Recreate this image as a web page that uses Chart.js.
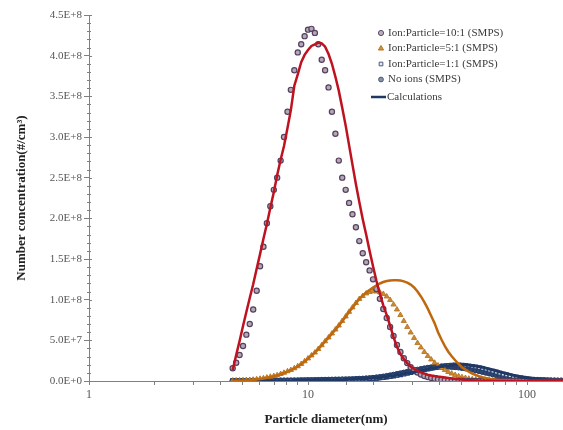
<!DOCTYPE html>
<html>
<head>
<meta charset="utf-8">
<script src="https://cdn.jsdelivr.net/npm/chart.js@4.4.1/dist/chart.umd.min.js"></script>
<style>
  html, body { margin: 0; padding: 0; background: #fff; }
</style>
</head>
<body>
<canvas id="psdChart" width="563" height="430"></canvas>
<script>
// particle diameter of each SMPS channel (nm), 64 channels per decade
var diameters = [
  4.53, 4.70, 4.87, 5.05, 5.23, 5.42, 5.62, 5.83, 6.04, 6.26,
  6.49, 6.73, 6.98, 7.23, 7.50, 7.77, 8.06, 8.35, 8.66, 8.98,
  9.31, 9.65, 10.0, 10.37, 10.75, 11.14, 11.55, 11.97, 12.41, 12.86,
  13.34, 13.82, 14.33, 14.86, 15.40, 15.96, 16.55, 17.15, 17.78, 18.43,
  19.11, 19.81, 20.54, 21.29, 22.07, 22.88, 23.71, 24.58, 25.48, 26.42,
  27.38, 28.39, 29.43, 30.51, 31.62, 32.78, 33.98, 35.23, 36.52, 37.86,
  39.24, 40.68, 42.17, 43.71, 45.32, 46.98, 48.70, 50.48, 52.33, 54.25,
  56.23, 58.29, 60.43, 62.64, 64.94, 67.32, 69.78, 72.34, 74.99, 77.74,
  80.58, 83.54, 86.60, 89.77, 93.06, 96.47, 100.0, 103.7, 107.5, 111.4,
  115.5, 119.7, 124.1, 128.6, 133.4, 138.2, 143.3, 148.6
];

// number concentrations, in units of 1E+6 #/cm3
var ion10to1 = [
  15.6, 22.5, 32, 43, 57, 70, 88, 111, 141, 165,
  194, 215, 235, 250, 271, 300, 331, 358, 382, 404,
  414, 424, 432, 433, 428, 414, 395, 382, 361, 331,
  304, 271, 250, 235, 219, 205, 189, 172, 157, 146,
  136, 125, 113, 101, 88.5, 77.5, 66.4, 55.3, 44.3, 35.7,
  28, 22, 17, 13.5, 10.5, 8, 6.2, 4.8, 3.7, 2.8,
  2.1, 1.6, 1.2, 0.9, 0.7, 0.5, 0.4, 0.3, 0.2, 0.15,
  0.1, 0.08, 0.06, 0.05, 0.04, 0.03, 0.02, 0.02, 0.01, 0.01,
  0.01, 0, 0, 0, 0, 0, 0, 0, 0, 0,
  0, 0, 0, 0, 0, 0, 0, 0
];
var ion5to1 = [
  0.2, 0.3, 0.45, 0.65, 0.9, 1.2, 1.6, 2.1, 2.7, 3.3,
  4.2, 5.2, 6.1, 7.1, 8.6, 10.1, 11.9, 13.5, 15.6, 18.1,
  20.9, 24.2, 27.7, 31.4, 35, 39.3, 44, 48.8, 53.5, 58.4,
  63.3, 68.2, 73.8, 79.3, 85, 90.4, 95.9, 100.8, 104.5, 107.6,
  109.4, 110.3, 110, 109, 107, 103.9, 99.6, 94, 87.9, 81.1,
  73.8, 66.4, 59.6, 52.9, 46.7, 41.2, 35.7, 30.7, 26.4, 22.4,
  19.1, 16, 13.5, 11.1, 9.1, 7.4, 5.9, 4.7, 3.7, 2.9,
  2.2, 1.7, 1.3, 1.0, 0.75, 0.55, 0.4, 0.3, 0.22, 0.16,
  0.12, 0.09, 0.07, 0.05, 0.04, 0.03, 0.02, 0.02, 0.01, 0.01,
  0.01, 0, 0, 0, 0, 0, 0, 0
];
var ion1to1 = [
  0.15, 0.15, 0.2, 0.2, 0.2, 0.25, 0.25, 0.3, 0.3, 0.35,
  0.35, 0.4, 0.4, 0.45, 0.5, 0.5, 0.55, 0.6, 0.65, 0.7,
  0.75, 0.8, 0.85, 0.9, 0.95, 1.0, 1.05, 1.1, 1.2, 1.3,
  1.4, 1.5, 1.6, 1.7, 1.8, 1.9, 2.0, 2.1, 2.2, 2.4,
  2.7, 3.0, 3.4, 3.9, 4.4, 5.0, 5.6, 6.3, 7.0, 7.8,
  8.6, 9.5, 10.4, 11.3, 12.2, 13.1, 14.0, 14.9, 15.7, 16.5,
  17.2, 17.8, 18.4, 18.9, 19.3, 19.5, 19.5, 19.3, 19.0, 18.5,
  17.9, 17.2, 16.3, 15.3, 14.2, 13.0, 11.8, 10.6, 9.4, 8.3,
  7.2, 6.2, 5.3, 4.5, 3.8, 3.2, 2.7, 2.2, 1.8, 1.5,
  1.2, 1.0, 0.8, 0.7, 0.6, 0.5, 0.4, 0.35
];
var noIons = [
  0.1, 0.1, 0.1, 0.15, 0.15, 0.15, 0.2, 0.2, 0.2, 0.25,
  0.25, 0.3, 0.3, 0.35, 0.4, 0.4, 0.45, 0.5, 0.55, 0.6,
  0.65, 0.7, 0.75, 0.8, 0.9, 1.0, 1.1, 1.2, 1.3, 1.4,
  1.5, 1.6, 1.7, 1.8, 1.9, 2.0, 2.2, 2.4, 2.6, 2.9,
  3.2, 3.6, 4.1, 4.6, 5.2, 5.9, 6.6, 7.4, 8.2, 9.1,
  10.0, 10.9, 11.8, 12.7, 13.6, 14.4, 15.2, 15.9, 16.5, 17.0,
  17.4, 17.7, 17.8, 17.8, 17.6, 17.3, 16.9, 16.4, 15.8, 15.1,
  14.3, 13.4, 12.5, 11.5, 10.5, 9.5, 8.5, 7.6, 6.7, 5.9,
  5.1, 4.4, 3.8, 3.2, 2.7, 2.3, 1.9, 1.6, 1.3, 1.1,
  0.9, 0.75, 0.6, 0.5, 0.4, 0.35, 0.3, 0.25
];

// calculated curves (same diameters)
var calc10to1 = [
  13.5, 32, 49, 67.6, 84.8, 102, 119, 138, 156, 175,
  193, 213, 232, 253, 272, 289, 311, 333, 363, 377,
  392, 401, 407, 412, 414, 416, 415, 411, 402, 390,
  374, 357, 336, 314, 290, 266, 242, 220, 199, 180,
  160, 141, 123, 107, 93, 81, 68, 54, 42, 33,
  27, 22, 17.8, 14.8, 12.3, 10.5, 9, 7.7, 6.8, 6.1,
  5.5, 5, 4.4, 3.8, 3.2, 2.6, 2.1, 1.7, 1.3, 1.0,
  0.8, 0.6, 0.45, 0.33, 0.25, 0.18, 0.13, 0.1, 0.07, 0.05,
  0.04, 0.03, 0.02, 0.01, 0.01, 0, 0, 0, 0, 0,
  0, 0, 0, 0, 0, 0, 0, 0
];
var calc5to1 = [
  0.1, 0.2, 0.35, 0.5, 0.75, 1.0, 1.4, 1.9, 2.5, 3.1,
  3.9, 4.9, 5.8, 6.9, 8.3, 9.8, 11.6, 13.3, 15.4, 17.9,
  20.7, 24, 27.5, 31.2, 34.9, 39.1, 43.8, 48.6, 53.3, 58.2,
  63.1, 68, 73.5, 79, 84.7, 90.2, 95.7, 100.8, 105, 108.8,
  111.9, 115, 117.7, 119.9, 121.7, 123, 123.6, 124, 124, 123.5,
  122.5, 121, 118.5, 115, 110, 104, 97, 89, 80, 71,
  60, 51, 43, 36, 30.5, 25.5, 21, 17, 14, 11.4,
  9.2, 7.4, 5.9, 4.6, 3.6, 2.8, 2.1, 1.6, 1.2, 0.9,
  0.65, 0.5, 0.35, 0.25, 0.18, 0.12, 0.08, 0.05, 0.03, 0.02,
  0.01, 0, 0, 0, 0, 0, 0, 0
];
var calc1to1 = [
  0.1, 0.1, 0.1, 0.1, 0.15, 0.15, 0.15, 0.2, 0.2, 0.2,
  0.25, 0.25, 0.3, 0.3, 0.35, 0.35, 0.4, 0.45, 0.5, 0.55,
  0.6, 0.65, 0.7, 0.75, 0.8, 0.9, 1.0, 1.1, 1.2, 1.3,
  1.4, 1.5, 1.6, 1.8, 2.0, 2.2, 2.4, 2.6, 2.8, 3.0,
  3.3, 3.6, 4.0, 4.4, 4.9, 5.4, 6.0, 6.6, 7.3, 8.0,
  8.8, 9.6, 10.4, 11.2, 12.1, 13.0, 13.9, 14.8, 15.6, 16.4,
  17.1, 17.7, 18.3, 18.8, 19.2, 19.5, 19.7, 19.7, 19.6, 19.3,
  18.9, 18.3, 17.6, 16.8, 15.8, 14.8, 13.7, 12.6, 11.4, 10.3,
  9.2, 8.1, 7.1, 6.2, 5.3, 4.5, 3.8, 3.2, 2.7, 2.2,
  1.8, 1.5, 1.2, 1.0, 0.8, 0.65, 0.5, 0.4
];

var yTicks = [0, 5e7, 1e8, 1.5e8, 2e8, 2.5e8, 3e8, 3.5e8, 4e8, 4.5e8];
var xLabels = [1, 10, 100];
var UNIT = 1e6;

function toPoints(vals) {
  return diameters.map(function (d, i) { return { x: d, y: vals[i] * UNIT }; });
}

function sciLabel(v) {
  if (v === 0) return '0.0E+0';
  var e = Math.floor(Math.log10(v) + 1e-9);
  return (v / Math.pow(10, e)).toFixed(1) + 'E+' + e;
}

var serif = '"Liberation Serif", "Times New Roman", serif';

// legend drawn inside the plot, top right
var legendRows = [
  { text: 'Ion:Particle=10:1 (SMPS)', style: 'circle', r: 2.6, fill: '#b9aebb', stroke: '#5f4b66' },
  { text: 'Ion:Particle=5:1 (SMPS)', style: 'triangle', r: 3, fill: '#d4923a', stroke: '#b8741c' },
  { text: 'Ion:Particle=1:1 (SMPS)', style: 'rect', r: 2.6, fill: '#e8ecf4', stroke: '#4a5a7a' },
  { text: 'No ions (SMPS)', style: 'circle', r: 2.4, fill: '#8a92a8', stroke: '#4a5570' },
  { text: 'Calculations', style: 'line', stroke: '#1f3864' }
];

var insideLegend = {
  id: 'insideLegend',
  afterDraw: function (chart) {
    var ctx = chart.ctx;
    var y0 = 33, dy = 15.5;
    ctx.save();
    ctx.font = '11px ' + serif;
    ctx.textBaseline = 'middle';
    legendRows.forEach(function (row, i) {
      var y = y0 + i * dy + (i === 4 ? 2 : 0);
      if (row.style === 'line') {
        ctx.strokeStyle = row.stroke;
        ctx.lineWidth = 2.5;
        ctx.beginPath();
        ctx.moveTo(371, y);
        ctx.lineTo(386, y);
        ctx.stroke();
      } else {
        ctx.fillStyle = row.fill;
        ctx.strokeStyle = row.stroke;
        ctx.lineWidth = 1;
        Chart.helpers.drawPoint(ctx, { pointStyle: row.style, radius: row.r, borderWidth: 1, rotation: 0 }, 381, y);
      }
      ctx.fillStyle = '#3a3a3a';
      ctx.fillText(row.text, row.style === 'line' ? 387 : 388, y);
    });
    ctx.restore();
  }
};

// minor ticks on the y axis and inner half of the major ticks
var minorTicks = {
  id: 'minorTicks',
  afterDraw: function (chart) {
    var ctx = chart.ctx, ys = chart.scales.y;
    var x = chart.chartArea.left;
    ctx.save();
    ctx.strokeStyle = '#808080';
    ctx.lineWidth = 1;
    ctx.beginPath();
    for (var v = 0; v <= 4.5e8 + 1; v += 1e7) {
      var py = Math.round(ys.getPixelForValue(v)) + 0.5;
      var major = Math.round(v / 1e7) % 5 === 0;
      ctx.moveTo(major ? x : x - 2, py);
      ctx.lineTo(x + (major ? 3 : 2), py);
    }
    ctx.stroke();
    ctx.restore();
  }
};

var ctx = document.getElementById('psdChart').getContext('2d');
var psdChart = new Chart(ctx, {
  type: 'scatter',
  data: {
    datasets: [
      { label: 'calc 10:1', data: toPoints(calc10to1), showLine: true, borderColor: '#be1220', borderWidth: 2.5, pointRadius: 0, order: 0 },
      { label: 'calc 5:1', data: toPoints(calc5to1), showLine: true, borderColor: '#c0680e', borderWidth: 2.5, pointRadius: 0, order: 0 },
      { label: 'Calculations', data: toPoints(calc1to1), showLine: true, borderColor: '#1f3864', borderWidth: 3, pointRadius: 0, order: 0 },
      { label: 'Ion:Particle=10:1 (SMPS)', data: toPoints(ion10to1), pointStyle: 'circle', pointRadius: 2.6,
        backgroundColor: '#b3a8b6', borderColor: '#55405e', borderWidth: 1.2, order: 1 },
      { label: 'Ion:Particle=5:1 (SMPS)', data: toPoints(ion5to1), pointStyle: 'triangle', pointRadius: 3,
        backgroundColor: '#cf8a30', borderColor: '#b06f1a', borderWidth: 0.8, order: 1 },
      { label: 'Ion:Particle=1:1 (SMPS)', data: toPoints(ion1to1), pointStyle: 'rect', pointRadius: 2.6,
        backgroundColor: '#dfe5f0', borderColor: '#26406f', borderWidth: 1.4, order: 1 },
      { label: 'No ions (SMPS)', data: toPoints(noIons), pointStyle: 'circle', pointRadius: 2.8,
        backgroundColor: '#33476f', borderColor: '#1f3864', borderWidth: 1, order: 1 }
    ]
  },
  options: {
    responsive: false,
    animation: false,
    devicePixelRatio: 1,
    layout: { autoPadding: false, padding: { top: 15, right: -3, left: 0, bottom: 0 } },
    plugins: {
      legend: { display: false },
      tooltip: { enabled: false }
    },
    scales: {
      x: {
        type: 'logarithmic',
        min: 1,
        max: 146,
        afterFit: function (s) { s.height = 49; s.paddingRight = 0; },
        grid: { drawOnChartArea: false, tickLength: 4, color: '#808080' },
        border: { color: '#808080' },
        ticks: {
          autoSkip: false,
          maxRotation: 0,
          padding: 3,
          color: '#555',
          font: { family: serif, size: 12 },
          callback: function (v) { return xLabels.indexOf(v) >= 0 ? String(v) : ''; }
        },
        title: {
          display: true,
          text: 'Particle diameter(nm)',
          color: '#222',
          font: { family: serif, size: 13, weight: 'bold' },
          padding: { top: 0, bottom: 3 }
        }
      },
      y: {
        min: 0,
        max: 4.5e8,
        afterFit: function (s) { s.width = 89; },
        afterBuildTicks: function (s) { s.ticks = yTicks.map(function (v) { return { value: v }; }); },
        grid: { drawOnChartArea: false, tickLength: 5, color: '#808080' },
        border: { color: '#808080' },
        ticks: {
          padding: 2,
          color: '#555',
          font: { family: serif, size: 11 },
          callback: function (v) { return sciLabel(v); }
        },
        title: {
          display: true,
          text: 'Number concentration(#/cm³)',
          color: '#222',
          font: { family: serif, size: 13, weight: 'bold' },
          padding: { top: 14, bottom: 0 }
        }
      }
    }
  },
  plugins: [minorTicks, insideLegend]
});
</script>
</body>
</html>
